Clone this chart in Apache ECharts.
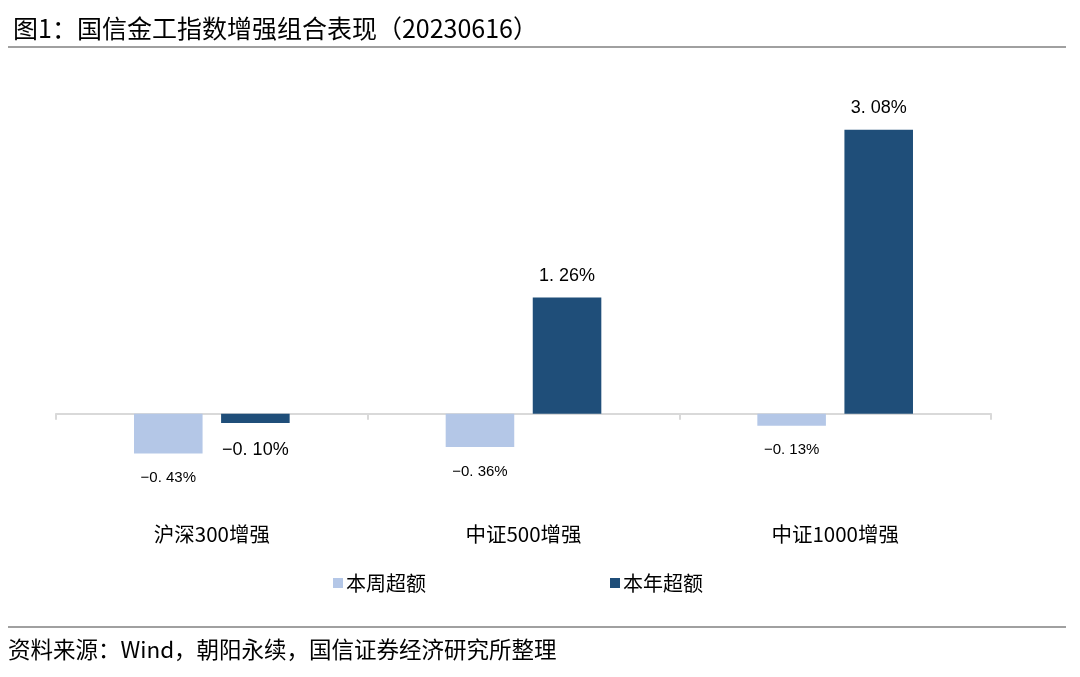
<!DOCTYPE html>
<html>
<head>
<meta charset="utf-8">
<script src="https://cdn.jsdelivr.net/npm/echarts@6/dist/echarts.min.js"></script>
<style>
  html, body { margin: 0; padding: 0; background: #fff; }
  #chart { width: 1080px; height: 677px; }
</style>
</head>
<body>
<div id="chart"></div>
<script>
const categories = ['沪深300增强', '中证500增强', '中证1000增强']
const weekExcess = [-0.43, -0.36, -0.13]
const yearExcess = [-0.10, 1.26, 3.08]
const seriesNames = ['本周超额', '本年超额']

const cnFont = '"Noto Sans CJK SC", "Liberation Sans", sans-serif'
const numFont = '"Liberation Sans", Arial, sans-serif'

function pct(v) {
  return (v < 0 ? '−' : '') + Math.abs(v).toFixed(2).replace('.', '. ') + '%'
}

const chart = echarts.init(document.getElementById('chart'))
chart.setOption({
  backgroundColor: '#fff',
  animation: false,
  title: {
    text: '图1：国信金工指数增强组合表现（20230616）',
    left: 8,
    top: 11,
    textStyle: { fontFamily: cnFont, fontSize: 25, fontWeight: 'normal', color: '#000' }
  },
  legend: {
    data: seriesNames,
    left: 328,
    top: 568,
    itemGap: 184,
    itemWidth: 10,
    itemHeight: 10,
    icon: 'rect',
    textStyle: { fontFamily: cnFont, fontSize: 20, color: '#000', padding: [0, 0, 0, -2] }
  },
  grid: { left: 56, right: 89, top: 91, height: 415, containLabel: false },
  xAxis: {
    type: 'category',
    data: categories,
    axisLine: { onZero: true, lineStyle: { color: '#d9d9d9', width: 2 } },
    axisTick: { show: true, length: 6, lineStyle: { color: '#d9d9d9', width: 2 } },
    axisLabel: { margin: 18, fontFamily: cnFont, fontSize: 20.5, color: '#000' }
  },
  yAxis: {
    type: 'value',
    min: -1,
    max: 3.5,
    show: false,
    splitLine: { show: false }
  },
  series: [
    {
      name: seriesNames[0],
      type: 'bar',
      data: weekExcess,
      barWidth: '22%',
      barGap: '27%',
      itemStyle: { color: '#b4c7e7' },
      label: {
        show: true,
        position: 'bottom',
        distance: 17,
        formatter: p => pct(p.value),
        fontFamily: numFont,
        fontSize: 15,
        color: '#000'
      }
    },
    {
      name: seriesNames[1],
      type: 'bar',
      data: yearExcess.map(v => v < 0
        ? { value: v, label: { position: 'bottom', distance: 18 } }
        : v),
      barWidth: '22%',
      itemStyle: { color: '#1f4e79' },
      label: {
        show: true,
        position: 'top',
        distance: 13,
        formatter: p => pct(p.value),
        fontFamily: numFont,
        fontSize: 18,
        color: '#000'
      }
    }
  ],
  graphic: [
    { type: 'line', shape: { x1: 8, y1: 47, x2: 1066, y2: 47 }, style: { stroke: '#808080', lineWidth: 1.5 } },
    { type: 'line', shape: { x1: 8, y1: 627, x2: 1066, y2: 627 }, style: { stroke: '#808080', lineWidth: 1.5 } },
    {
      type: 'text', left: 8, top: 638,
      style: { text: '资料来源：Wind，朝阳永续，国信证券经济研究所整理', font: '22.5px ' + cnFont, fill: '#000' }
    }
  ]
})
</script>
</body>
</html>
